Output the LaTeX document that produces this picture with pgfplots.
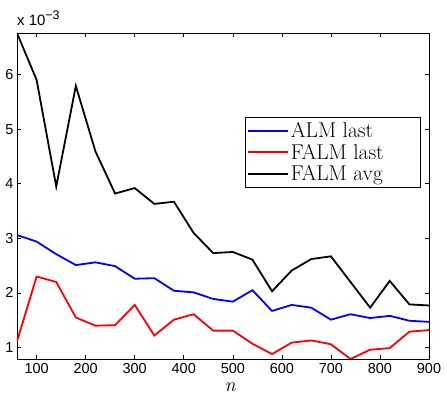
\documentclass[border=0pt]{standalone}
\usepackage{fontspec}
\usepackage{pgfplots}
\pgfplotsset{compat=1.18}
\newfontfamily\helv{Liberation Sans}
\pgfplotstableread{
x alm falm avg
60  3.06 1.11 6.76
100 2.94 2.30 5.90
140 2.71 2.20 3.95
180 2.51 1.55 5.79
220 2.56 1.40 4.59
260 2.49 1.41 3.82
300 2.26 1.78 3.92
340 2.27 1.22 3.63
380 2.04 1.51 3.67
420 2.01 1.61 3.10
460 1.89 1.31 2.73
500 1.84 1.31 2.75
540 2.05 1.07 2.61
580 1.67 0.88 2.03
620 1.78 1.09 2.41
660 1.73 1.13 2.62
700 1.51 1.06 2.67
740 1.61 0.79 2.20
780 1.54 0.96 1.73
820 1.58 0.99 2.22
860 1.49 1.29 1.79
900 1.47 1.32 1.77
}\datatable
\begin{document}
\begin{tikzpicture}
\useasboundingbox (-17bp,-35bp) rectangle (430bp,359bp);
\begin{axis}[name=ax, at={(0,0)}, anchor=south west, scale only axis,
  width=412bp, height=326bp,
  xmin=60, xmax=900, ymin=0.79, ymax=6.76,
  xtick={100,200,...,900}, ytick={1,...,6},
  tick align=inside, major tick length=4bp,
  axis line style={line width=0.8bp},
  every tick/.style={black, line width=0.6bp},
  ticklabel style={font=\helv\fontsize{14.5}{14.5}\selectfont},
  /pgf/number format/assume math mode=true,
  xticklabel style={yshift=-1bp},
  legend style={at={(0.553,0.742)}, anchor=north west,
    font=\fontsize{21.5}{21.5}\selectfont, draw=black,
    inner xsep=2bp, inner ysep=3bp, row sep=1bp},
  legend cell align=left,
  legend image code/.code={\draw[line width=1.8bp,#1] (0bp,0bp) -- (40bp,0bp);},
]
\addplot[blue, line width=1.8bp] table[x=x, y=alm] {\datatable};
\addlegendentry{ALM last}
\addplot[red, line width=1.8bp] table[x=x, y=falm] {\datatable};
\addlegendentry{FALM last\hspace*{32bp}}
\addplot[black, line width=1.8bp] table[x=x, y=avg] {\datatable};
\addlegendentry{FALM avg}
\end{axis}
\node[anchor=base west, font=\helv\fontsize{15}{15}\selectfont, inner sep=0pt, yshift=7bp]
  at (ax.north west) {x 10\raisebox{0.85ex}{\fontsize{12.5}{12.5}\selectfont −3}};
\node[anchor=base, inner sep=0pt, xshift=7bp, yshift=-32bp] at (ax.south) {\fontsize{20}{20}\selectfont\itshape n};
\end{tikzpicture}
\end{document}
